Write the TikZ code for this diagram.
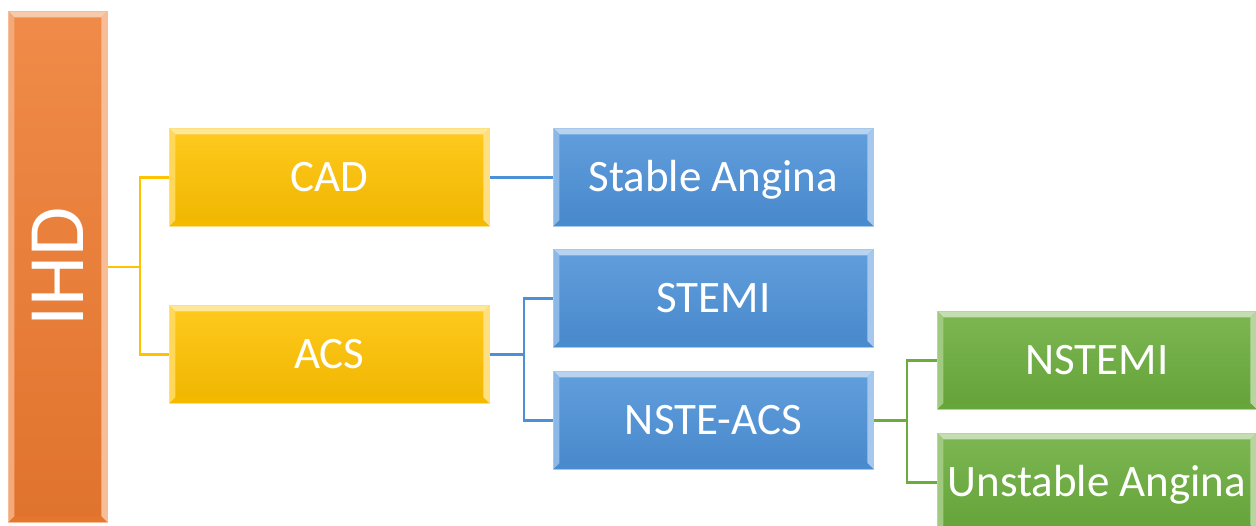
\documentclass[tikz,border=0pt]{standalone}
\usepackage{fontspec}
\setmainfont{Carlito}
\usetikzlibrary{calc}

\definecolor{ihdorange}{HTML}{EE7B30}
\definecolor{lvyellow}{HTML}{FFC200}
\definecolor{lvblue}{HTML}{4C91D8}
\definecolor{lvgreen}{HTML}{6BAD3C}

\tikzset{
  % bevelled box filled with a vertical gradient of the given colour
  bevelbox/.style={
    rectangle, anchor=north west, inner sep=0pt,
    top color=#1!88!white, bottom color=#1!94!black,
    draw=#1!50!white, line width=0.8pt,
    path picture={
      \coordinate (pnw) at (path picture bounding box.north west);
      \coordinate (pne) at (path picture bounding box.north east);
      \coordinate (psw) at (path picture bounding box.south west);
      \coordinate (pse) at (path picture bounding box.south east);
      \fill[#1!40!white] (pnw) -- (pne) -- ($(pne)+(-6pt,-6pt)$) -- ($(pnw)+(6pt,-6pt)$) -- cycle;
      \fill[#1!65!white] (pnw) -- ($(pnw)+(6pt,-6pt)$) -- ($(psw)+(6pt,6pt)$) -- (psw) -- cycle;
      \fill[#1!50!white] (pne) -- ($(pne)+(-6pt,-6pt)$) -- ($(pse)+(-6pt,6pt)$) -- (pse) -- cycle;
      \fill[#1!96!black] (psw) -- ($(psw)+(6pt,6pt)$) -- ($(pse)+(-6pt,6pt)$) -- (pse) -- cycle;
    }
  },
  lvtext/.style={text=white, font=\fontsize{45}{50}\selectfont,
    text height=29pt, text depth=0pt},
  lvbox/.style={bevelbox=#1, lvtext, minimum width=320pt, minimum height=98pt},
  link/.style={line width=2.5pt, draw=#1}
}

\begin{document}
\begin{tikzpicture}[x=1pt, y=-1pt]
  \useasboundingbox (0,0) rectangle (1256,525);
  \fill[white] (0,0) rectangle (1256,525);
  \clip (0,0) rectangle (1256,525);

  % root
  \node[bevelbox=ihdorange, minimum width=99pt, minimum height=511pt] (ihd) at (8,11) {};
  \node[rotate=90, text=white, font=\fontsize{80}{86}\selectfont,
        text height=52pt, text depth=0pt, inner sep=0pt] (ihdtext) at (ihd.center) {IHD};

  % second level
  \node[lvbox=lvyellow] (cad) at (169,128) {CAD};
  \node[lvbox=lvyellow] (acs) at (169,305) {ACS};

  % third level
  \node[lvbox=lvblue] (stable) at (553,128) {Stable Angina};
  \node[lvbox=lvblue] (stemi) at (553,249) {STEMI};
  \node[lvbox=lvblue] (nste) at (553,371) {NSTE-ACS};

  % fourth level
  \node[lvbox=lvgreen, minimum width=319pt] (nstemi) at (937,311) {NSTEMI};
  \node[lvbox=lvgreen, minimum width=319pt] (ua) at (937,433) {Unstable Angina};

  % connectors
  \draw[link=lvyellow] (ihd.east) -- ++(32pt,0) |- (cad.west);
  \draw[link=lvyellow] (ihd.east) -- ++(32pt,0) |- (acs.west);
  \draw[link=lvblue] (cad.east) -- (stable.west);
  \draw[link=lvblue] (acs.east) -- ++(34pt,0) |- (stemi.west);
  \draw[link=lvblue] (acs.east) -- ++(34pt,0) |- (nste.west);
  \draw[link=lvgreen] (nste.east) -- ++(33pt,0) |- (nstemi.west);
  \draw[link=lvgreen] (nste.east) -- ++(33pt,0) |- (ua.west);
\end{tikzpicture}
\end{document}
